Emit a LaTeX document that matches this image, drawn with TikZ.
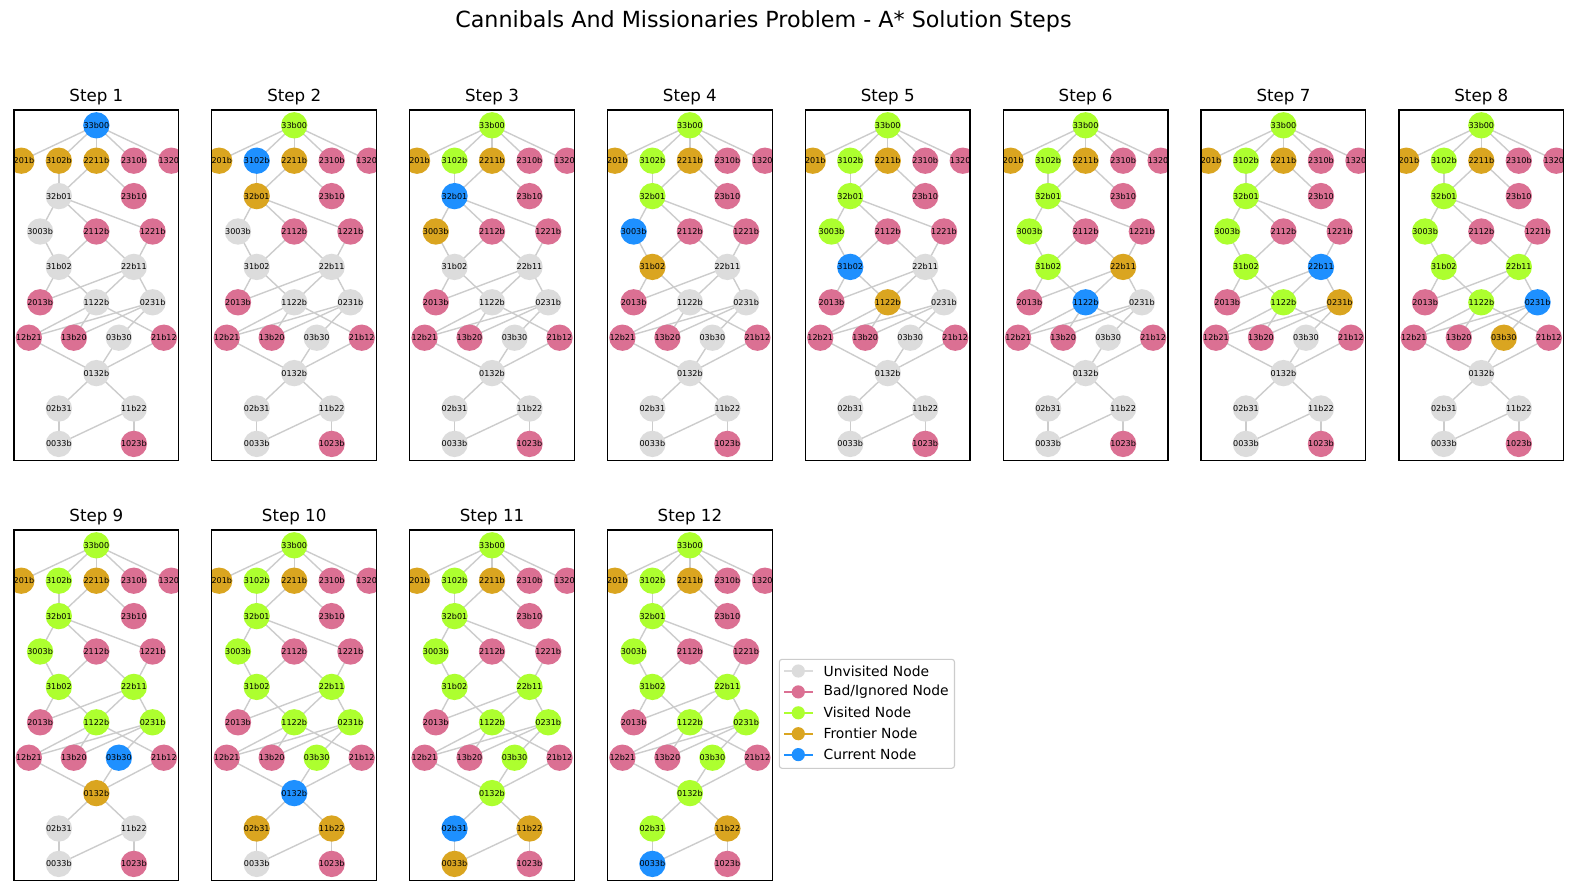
\documentclass[tikz,border=0pt]{standalone}
\usepackage{fontspec}
\setmainfont{DejaVu Sans}
\pgfdeclarelayer{bg}
\pgfdeclarelayer{paper}
\pgfsetlayers{paper,bg,main}
\definecolor{unv}{HTML}{DCDCDC}
\definecolor{bad}{HTML}{DB7093}
\definecolor{vis}{HTML}{ADFF2F}
\definecolor{fro}{HTML}{DAA520}
\definecolor{cur}{HTML}{1E90FF}
\definecolor{edg}{HTML}{CCCCCC}
\tikzset{
  nd/.style={circle, minimum size=16.3pt, inner sep=0pt, draw=none, text=black, font=\fontsize{5.8}{6}\selectfont},
  gedge/.style={draw=edg, line width=1pt},
  frame/.style={draw=black, line width=0.9pt},
  steptitle/.style={font=\fontsize{12}{14}\selectfont, anchor=base},
  legtext/.style={font=\fontsize{10}{12}\selectfont, anchor=west, inner sep=0pt},
}
\makeatletter
\newcommand\setst[2]{\expandafter\xdef\csname cmst@#1\endcsname{#2}}
\makeatother
\newcommand\upd[1]{\foreach \n/\s in {#1}{\setst{\n}{\s}}}
\newcommand\panel[3]{%
  \begin{scope}[shift={(#1,#2)}]
    \begin{scope}
      \clip (0,0) rectangle (164.7,350.5);
      \foreach \nm/\xx/\yy/\lab in {
        33b00/0/0/33b00, 2201b/-2/1/{\phantom{2}201b}, 3102b/-1/1/3102b, 2211b/0/1/2211b,
        2310b/1/1/2310b, 1320b/2/1/{1320\phantom{b}}, 32b01/-1/2/32b01, 23b10/1/2/23b10,
        3003b/-1.5/3/3003b, 2112b/0/3/2112b, 1221b/1.5/3/1221b, 31b02/-1/4/31b02, 22b11/1/4/22b11,
        2013b/-1.5/5/2013b, 1122b/0/5/1122b, 0231b/1.5/5/0231b,
        12b21/-1.8/6/12b21, 13b20/-0.6/6/13b20, 03b30/0.6/6/03b30, 21b12/1.8/6/21b12,
        0132b/0/7/0132b, 02b31/-1/8/02b31, 11b22/1/8/11b22, 0033b/-1/9/0033b, 1023b/1/9/1023b} {
        \makeatletter\edef\curcol{\csname cmst@\nm\endcsname}\makeatother
        \node[nd, fill=\curcol] (p#3-\nm) at ({82.35+37.5*\xx},{15.3+35.4*\yy}) {\lab};
      }
    \end{scope}
    \begin{pgfonlayer}{bg}
      \foreach \ea/\eb in {
        33b00/2201b, 33b00/3102b, 33b00/2211b, 33b00/2310b, 33b00/1320b,
        3102b/32b01, 2211b/32b01, 2211b/23b10,
        32b01/3003b, 32b01/2112b, 32b01/1221b,
        3003b/31b02, 2112b/31b02, 2112b/22b11, 1221b/22b11,
        31b02/2013b, 31b02/1122b, 22b11/2013b, 22b11/1122b, 22b11/0231b,
        1122b/12b21, 1122b/13b20, 1122b/21b12,
        0231b/12b21, 0231b/13b20, 0231b/03b30,
        12b21/0132b, 03b30/0132b, 21b12/0132b,
        0132b/02b31, 0132b/11b22,
        02b31/0033b, 11b22/0033b, 11b22/1023b} {
        \draw[gedge] (p#3-\ea.center) -- (p#3-\eb.center);
      }
    \end{pgfonlayer}
    \draw[frame] (0,0) rectangle (164.7,350.5);
    \node[steptitle] (t#3) at (82.35,-8.3) {Step #3};
  \end{scope}
}
\begin{document}
\begin{tikzpicture}[x=0.72pt,y=-0.72pt]
\begin{pgfonlayer}{paper}
\fill[white] (0,0) rectangle (1577,893);
\end{pgfonlayer}
\useasboundingbox (0,0) rectangle (1577,893);
\makeatletter
\foreach \n in {33b00,2201b,3102b,2211b,32b01,3003b,31b02,22b11,1122b,0231b,03b30,0132b,02b31,11b22,0033b} {\setst{\n}{unv}}
\foreach \n in {2310b,1320b,23b10,2112b,1221b,2013b,12b21,13b20,21b12,1023b} {\setst{\n}{bad}}
\makeatother
\node[font=\fontsize{16}{19}\selectfont, anchor=base] (title) at (763.4,27.3) {Cannibals And Missionaries Problem - A* Solution Steps};
\upd{33b00/cur,2201b/fro,3102b/fro,2211b/fro}\panel{14}{110}{1}
\upd{33b00/vis,3102b/cur,32b01/fro}\panel{211.85}{110}{2}
\upd{3102b/vis,32b01/cur,3003b/fro}\panel{409.7}{110}{3}
\upd{32b01/vis,3003b/cur,31b02/fro}\panel{607.55}{110}{4}
\upd{3003b/vis,31b02/cur,1122b/fro}\panel{805.4}{110}{5}
\upd{31b02/vis,1122b/cur,22b11/fro}\panel{1003.25}{110}{6}
\upd{1122b/vis,22b11/cur,0231b/fro}\panel{1201.1}{110}{7}
\upd{22b11/vis,0231b/cur,03b30/fro}\panel{1398.95}{110}{8}
\upd{0231b/vis,03b30/cur,0132b/fro}\panel{14}{530}{9}
\upd{03b30/vis,0132b/cur,02b31/fro,11b22/fro}\panel{211.85}{530}{10}
\upd{0132b/vis,02b31/cur,0033b/fro}\panel{409.7}{530}{11}
\upd{02b31/vis,0033b/cur}\panel{607.55}{530}{12}
% legend
\draw[draw=edg, fill=white, rounded corners=2pt, line width=0.8pt] (779.3,659.3) rectangle (954.5,768.3);
\foreach \k/\c/\t [count=\i from 0] in {U/unv/Unvisited Node, B/bad/Bad\slash Ignored Node, V/vis/Visited Node, F/fro/Frontier Node, C/cur/Current Node} {
  \coordinate (lg\k-l) at (784,{671+20.9*\i});
  \coordinate (lg\k-r) at (812.7,{671+20.9*\i});
  \draw[\c, line width=1.5pt] (lg\k-l) -- (lg\k-r);
  \node[circle, fill=\c, minimum size=9.5pt, inner sep=0pt] (lg\k) at (798.3,{671+20.9*\i}) {};
  \node[legtext] (lg\k-t) at (823.3,{671+20.9*\i}) {\t};
}
\end{tikzpicture}
\end{document}
